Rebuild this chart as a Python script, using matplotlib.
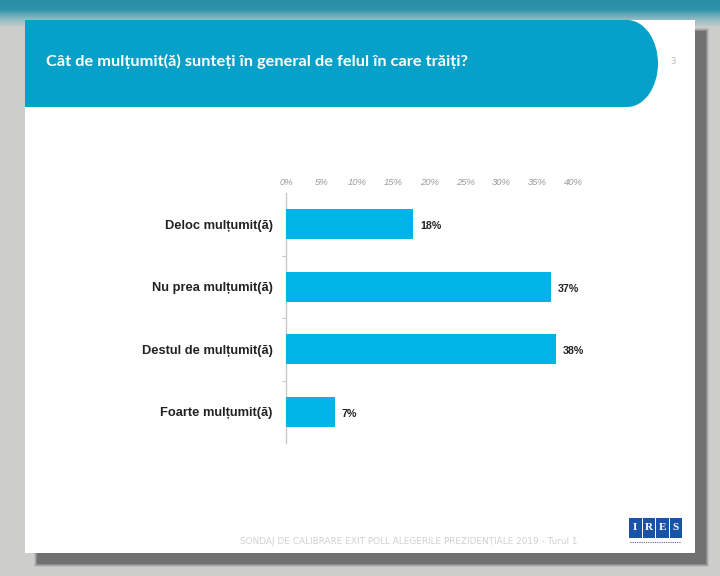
import matplotlib.pyplot as plt
import matplotlib.patches as mpatches
import numpy as np

# data
categorii = ['Deloc mulțumit(ă)', 'Nu prea mulțumit(ă)', 'Destul de mulțumit(ă)', 'Foarte mulțumit(ă)']
procente = [17.7, 36.9, 37.6, 6.8]
xticks = [0, 5, 10, 15, 20, 25, 30, 35, 40]
xtick_labels = ['0%', '5%', '10%', '15%', '20%', '25%', '30%', '35%', '40%']

titlu = 'Cât de mulțumit(ă) sunteți în general de felul în care trăiți?'
subsol = 'SONDAJ DE CALIBRARE EXIT POLL ALEGERILE PREZIDENȚIALE 2019 - Turul 1'

W, H = 720, 576
fig = plt.figure(figsize=(W / 100, H / 100), dpi=100)
fig.patch.set_facecolor('#cdcecb')

# background / slide frame in pixel coordinates
bg = fig.add_axes([0, 0, 1, 1])
bg.set_xlim(0, W)
bg.set_ylim(H, 0)
bg.axis('off')

# teal strip on top of the screen
grad = np.linspace(0, 1, 40).reshape(-1, 1)
bg.imshow(grad, extent=[0, W, 28, 0], cmap=plt.matplotlib.colors.LinearSegmentedColormap.from_list(
    'g', ['#2a8ea6', '#2f93a9', '#8ab8c2', '#cdcecb']), aspect='auto', zorder=0)

# slide shadow (soft)
for i, a in enumerate([0.12, 0.2, 0.3, 0.45]):
    bg.add_patch(mpatches.Rectangle((34 + i, 28 + i), 675 - 2 * i, 539 - 2 * i,
                                    color='#505050', alpha=a, lw=0, zorder=1))
# slide
bg.add_patch(mpatches.Rectangle((25, 20), 670, 533, color='white', lw=0, zorder=2))

# title banner
banner = '#05a1c9'
bg.add_patch(mpatches.Rectangle((25, 20), 602, 87, color=banner, lw=0, zorder=3))
bg.add_patch(mpatches.Ellipse((627, 63.5), 62, 87, color=banner, lw=0, zorder=3))
bg.text(46, 61, titlu, color='white', fontsize=11.8, fontweight='bold',
        family='Lato', va='center', ha='left', zorder=4)
bg.text(673, 61, '3', color='#b8b8b8', fontsize=6, va='center', ha='center', zorder=4)

# footer
bg.text(409, 541, subsol, color='#d0d0d0', fontsize=6.4, va='center', ha='center', zorder=4)

# IRES logo
for i, lit in enumerate('IRES'):
    bg.add_patch(mpatches.Rectangle((629 + i * 13.5, 518), 12.5, 20, color='#1a52a8', lw=0, zorder=4))
    bg.text(635.2 + i * 13.5, 528, lit, color='white', fontsize=8, fontweight='bold',
            family='Liberation Serif', ha='center', va='center', zorder=5)
bg.plot([630, 681], [542, 542], color='#666666', lw=0.8, ls=(0, (1, 1)), zorder=4)

# chart
ax = fig.add_axes([286 / W, 1 - 443 / H, 287 / W, 250 / H])
ax.set_facecolor('none')
y = np.arange(len(categorii))
ax.barh(y, procente, height=0.48, color='#00b4e8', zorder=3)
for yi, v in zip(y, procente):
    ax.text(v + 1.0, yi + 0.03, '%.0f%%' % v, va='center', ha='left', fontsize=7.7,
            fontweight='bold', family='Liberation Sans', color='#222222')

ax.set_xlim(0, 40)
ax.set_ylim(3.5, -0.5)
ax.set_xticks(xticks)
ax.set_xticklabels(xtick_labels, fontsize=6.8, style='italic', color='#9a9a9a', family='Liberation Sans')
ax.xaxis.tick_top()
ax.tick_params(axis='x', length=0, pad=4.5)
ax.set_yticks(y)
ax.set_yticklabels(categorii, fontsize=9.3, fontweight='bold', family='Liberation Sans', color='#222222')
ax.set_yticks([0.5, 1.5, 2.5], minor=True)
ax.tick_params(axis='y', which='major', length=0, pad=9.5)
ax.tick_params(axis='y', which='minor', length=3, color='#c8c8c8', width=0.8)
for s in ['top', 'right', 'bottom']:
    ax.spines[s].set_visible(False)
ax.spines['left'].set_color('#c8c8c8')
ax.spines['left'].set_linewidth(1.0)

fig.savefig('out.png', dpi=100, facecolor=fig.get_facecolor())
